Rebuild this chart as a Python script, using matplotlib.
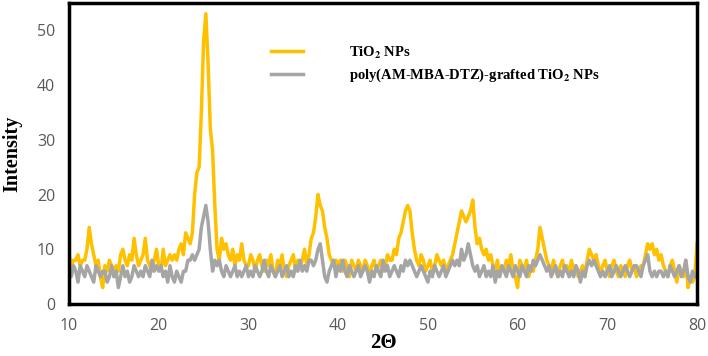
import numpy as np
import matplotlib.pyplot as plt

# 2-theta grid, 0.25 deg step from 10 to 80
two_theta = np.arange(10, 80.001, 0.25)

# TiO2 NPs (8 values per 2 deg row)
tio2 = [
    9, 7, 8, 8, 9, 7, 8, 8,          # 10
    10, 14, 11, 9, 7, 8, 5, 3,       # 12
    7, 6, 8, 7, 5, 7, 6, 9,          # 14
    10, 8, 7, 9, 8, 12, 9, 7,        # 16
    8, 9, 12, 8, 7, 6, 8, 10,        # 18
    7, 6, 10, 7, 8, 9, 8, 9,         # 20
    8, 10, 11, 9, 13, 12, 11, 13,    # 22
    20, 24, 25, 35, 48, 53, 44, 32,  # 24
    28, 18, 10, 8, 12, 10, 11, 9,    # 26
    8, 10, 7, 9, 8, 11, 8, 7,        # 28
    7, 9, 8, 6, 8, 9, 7, 6,          # 30
    8, 7, 9, 6, 5, 8, 7, 9,          # 32
    6, 5, 7, 8, 9, 6, 8, 7,          # 34
    8, 10, 7, 9, 12, 13, 16, 20,     # 36
    18, 17, 14, 12, 9, 8, 7, 8,      # 38
    7, 8, 6, 8, 7, 5, 8, 7,          # 40
    6, 8, 7, 6, 8, 7, 5, 7,          # 42
    8, 6, 7, 8, 6, 7, 9, 8,          # 44
    8, 10, 9, 12, 13, 15, 17, 18,    # 46
    17, 13, 10, 8, 7, 9, 8, 6,       # 48
    7, 8, 6, 7, 9, 8, 7, 8,          # 50
    6, 7, 8, 9, 11, 13, 15, 17,      # 52
    16, 15, 16, 17, 19, 14, 11, 12,  # 54
    10, 9, 10, 8, 9, 7, 6, 8,        # 56
    5, 7, 6, 8, 7, 9, 6, 5,          # 58
    3, 8, 7, 6, 8, 5, 7, 6,          # 60
    8, 10, 14, 12, 10, 8, 7, 6,      # 62
    8, 6, 5, 7, 8, 6, 7, 5,          # 64
    8, 6, 7, 5, 6, 7, 5, 8,          # 66
    10, 9, 8, 9, 7, 6, 7, 8,         # 68
    6, 5, 7, 8, 6, 5, 7, 6,          # 70
    5, 7, 8, 6, 7, 5, 6, 7,          # 72
    7, 9, 11, 10, 11, 9, 10, 8,      # 74
    9, 7, 6, 5, 7, 8, 6, 4,          # 76
    7, 6, 5, 8, 3, 5, 4, 5,          # 78
    11,                              # 80
]

# poly(AM-MBA-DTZ)-grafted TiO2 NPs
grafted = [
    6, 5, 7, 6, 4, 7, 6, 5,          # 10
    7, 6, 5, 4, 7, 6, 5, 6,          # 12
    6, 4, 5, 7, 5, 6, 3, 5,          # 14
    7, 5, 6, 4, 5, 7, 6, 5,          # 16
    6, 5, 7, 6, 5, 8, 6, 7,          # 18
    6, 7, 5, 6, 4, 7, 5, 4,          # 20
    6, 5, 4, 6, 6, 8, 8, 9,          # 22
    8, 9, 10, 14, 16, 18, 15, 10,    # 24
    6, 8, 7, 8, 6, 5, 7, 6,          # 26
    5, 6, 7, 5, 6, 5, 6, 7,          # 28
    5, 6, 5, 7, 6, 5, 6, 8,          # 30
    6, 5, 7, 6, 5, 6, 7, 5,          # 32
    6, 7, 5, 6, 5, 7, 6, 8,          # 34
    6, 7, 6, 8, 8, 7, 8, 10,         # 36
    11, 8, 5, 4, 6, 7, 8, 5,         # 38
    7, 6, 8, 6, 5, 7, 6, 5,          # 40
    6, 7, 5, 6, 7, 6, 4, 6,          # 42
    5, 7, 6, 5, 8, 6, 7, 5,          # 44
    6, 7, 6, 5, 7, 6, 8, 7,          # 46
    8, 7, 6, 5, 6, 7, 6, 5,          # 48
    4, 6, 5, 7, 6, 5, 6, 7,          # 50
    5, 6, 7, 8, 7, 8, 7, 10,         # 52
    8, 9, 11, 9, 7, 6, 7, 5,         # 54
    6, 7, 5, 6, 5, 7, 4, 6,          # 56
    5, 7, 6, 5, 7, 6, 5, 7,          # 58
    6, 5, 7, 6, 5, 7, 6, 8,          # 60
    7, 8, 9, 8, 7, 6, 7, 5,          # 62
    6, 7, 5, 6, 5, 7, 6, 5,          # 64
    6, 5, 7, 6, 4, 6, 5, 7,          # 66
    8, 7, 8, 7, 6, 5, 6, 5,          # 68
    6, 7, 5, 6, 7, 6, 5, 6,          # 70
    7, 6, 5, 6, 7, 7, 6, 5,          # 72
    7, 8, 9, 6, 5, 6, 5, 6,          # 74
    6, 5, 6, 5, 7, 6, 5, 6,          # 76
    7, 5, 6, 8, 5, 4, 6, 5,          # 78
    5,                               # 80
]

plt.rcParams['mathtext.fontset'] = 'stix'

fig = plt.figure(figsize=(7.08, 3.56), dpi=100)
ax = fig.add_axes([0.0975, 0.146, 0.887, 0.846])

ax.plot(two_theta, tio2, color='#FFC000', lw=2.5, label=r'TiO$_\mathbf{2}$ NPs')
ax.plot(two_theta, grafted, color='#A5A5A5', lw=2.5,
        label=r'poly(AM-MBA-DTZ)-grafted TiO$_\mathbf{2}$ NPs')

ax.set_xlim(10, 80)
ax.set_ylim(0, 55)
ax.set_xticks(range(10, 81, 10))
ax.set_yticks(range(0, 51, 10))
ax.tick_params(length=0, labelsize=11.5, labelcolor='#595959', pad=10)
for lab in ax.get_xticklabels() + ax.get_yticklabels():
    lab.set_family('Open Sans')
for sp in ax.spines.values():
    sp.set_linewidth(2.5)
    sp.set_color('black')

ax.set_ylabel('Intensity', family='Liberation Serif', fontweight='bold', fontsize=14.5)
ax.yaxis.set_label_coords(-0.075, 0.5)
ax.set_xlabel('2Θ', family='Liberation Serif', fontweight='bold', fontsize=15)
ax.xaxis.set_label_coords(0.5, -0.095)

leg = ax.legend(loc='upper left', bbox_to_anchor=(0.3, 0.905), frameon=False,
                handlelength=2.2, handletextpad=3.2, labelspacing=0.4,
                prop={'family': 'Liberation Serif', 'weight': 'bold', 'size': 10.5})

fig.savefig('out.png', dpi=100)
